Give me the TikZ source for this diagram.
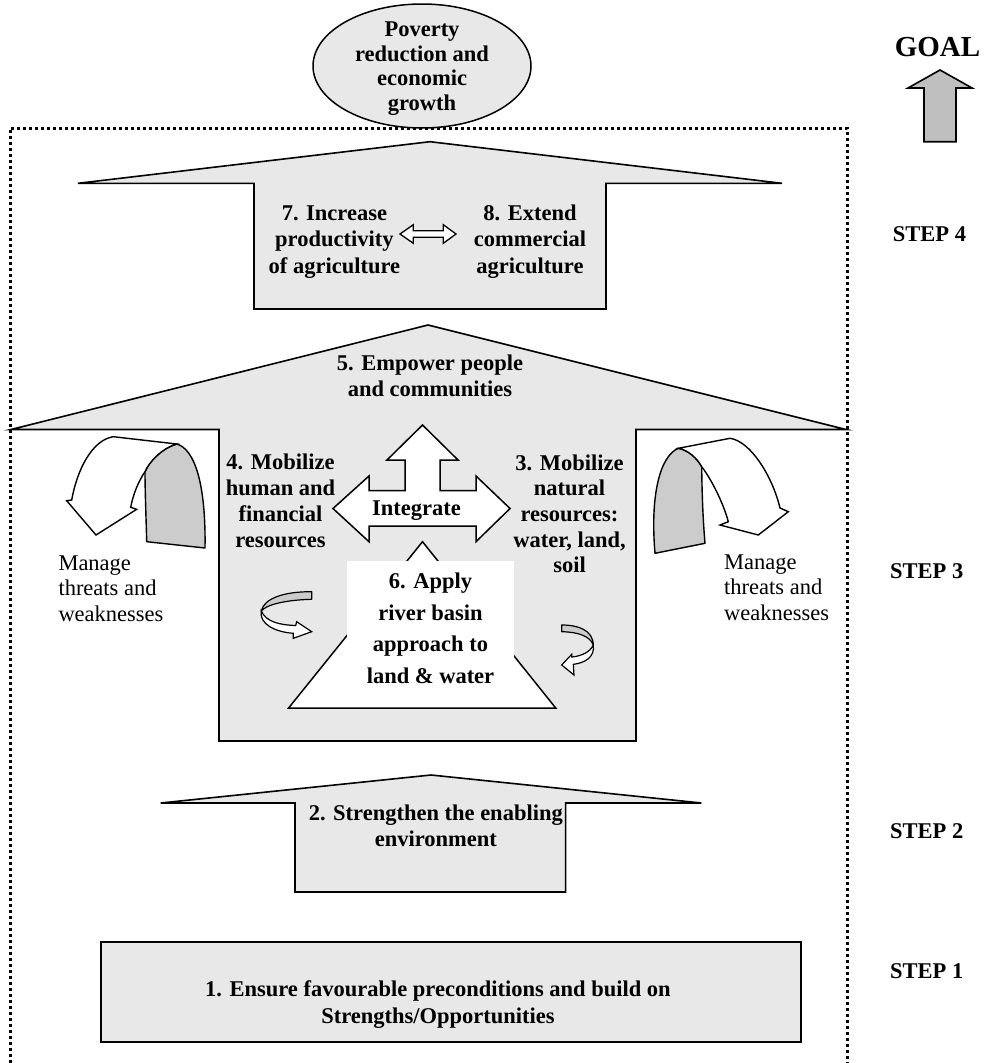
\documentclass[tikz,border=0pt]{standalone}
\usepackage{fontspec}
\setmainfont{Liberation Serif}
\definecolor{panelgray}{gray}{0.91}
\definecolor{ribbongray}{gray}{0.8}
\definecolor{goalgray}{gray}{0.75}
\begin{document}
\begin{tikzpicture}[x=1pt,y=-1pt,
  blockarrow/.style={draw=black,line width=1.6pt,line join=miter,fill=panelgray},
  hollow/.style={draw=black,line width=1.5pt,line join=miter,fill=white},
  ribbon/.style={draw=black,line width=1.4pt,line join=round,fill=ribbongray},
  ribbonface/.style={draw=black,line width=1.4pt,line join=miter,fill=white},
  % multi-line labels are placed by the baseline of their last line
  lbl/.style={font=\fontsize{22.5}{#1}\selectfont\bfseries,align=center,inner sep=0pt,anchor=base},
  lbl/.default=26,
  note/.style={font=\fontsize{22.5}{25.7}\selectfont,align=left,inner sep=0pt,anchor=base west},
  steplbl/.style={font=\fontsize{22.5}{26}\selectfont\bfseries,inner sep=0pt,anchor=base west}]

\useasboundingbox (0,0) rectangle (985,1063);
\fill[white] (0,0) rectangle (985,1063);

% dotted frame round the four steps
\draw[line width=3pt,dash pattern=on 3pt off 3pt] (10,1063) -- (10,128) -- (847,128) -- (847,1063);

% goal
\draw[line width=1.5pt,fill=panelgray] (422,66) ellipse [x radius=109,y radius=62];
\node[lbl=24.5] (poverty) at (422,110) {Poverty\\reduction and\\economic\\growth};

\node[font=\fontsize{29}{30}\selectfont\bfseries,inner sep=0pt,anchor=base] (goal) at (937.5,56.7) {GOAL};
\draw[line width=1.6pt,fill=goalgray] (940,70) -- (972,88) -- (956,88) -- (956,141.7) -- (924,141.7) -- (924,88) -- (908,88) -- cycle;

% step 4
\draw[blockarrow] (430,141.7) -- (782,183.3) -- (606,183.3) -- (606,309) -- (254,309) -- (254,183.3) -- (78,183.3) -- cycle;
\node[lbl=26.2] (prod) at (334.4,273.1) {7. Increase\\productivity\\of agriculture};
\node[lbl=26.2] (comm) at (530,273.1) {8. Extend\\commercial\\agriculture};
\draw[hollow,line width=1.3pt] (400,234) -- (413.3,224.7) -- (413.3,230.7) -- (443.3,230.7) -- (443.3,224.7) -- (456,234) -- (443.3,243.3) -- (443.3,237.3) -- (413.3,237.3) -- (413.3,243.3) -- cycle;
\node[steplbl] (s4) at (892.7,241.7) {STEP 4};

% step 3
\draw[blockarrow] (428,325) -- (846,429.5) -- (636,429.5) -- (636,741) -- (219,741) -- (219,429.5) -- (11,429.5) -- cycle;
\node[lbl] (empower) at (430,396) {5. Empower people\\and communities};

% integrate arrows
\draw[hollow] (422.5,425) -- (458,460) -- (440,460) -- (440,490.7) -- (476,490.7) -- (476,476) -- (510,508.5) -- (476,541.7) -- (476,526) -- (369,526) -- (369,541.7) -- (333,508.5) -- (369,476) -- (369,490.7) -- (405,490.7) -- (405,460) -- (387,460) -- cycle;
\node[lbl] (integrate) at (416.5,515) {Integrate};

\node[lbl=25.7] (human) at (280.5,547) {4. Mobilize\\human and\\financial\\resources};
\node[lbl=25.7] (natural) at (569.5,572.8) {3. Mobilize\\natural\\resources:\\water, land,\\soil};

% river basin pyramid
\draw[hollow] (422.5,541.7) -- (555.7,708) -- (288.6,708) -- cycle;
\fill[white] (347,561) rectangle (514,704);
\node[lbl=31.7] (basin) at (430.5,683.4) {6. Apply\\river basin\\approach to\\land \& water};

% small curled arrows beside the pyramid
\draw[ribbon,line width=1.2pt] (311.7,591.7) .. controls (285,591.5) and (264,598) .. (261.3,611) .. controls (266,605) and (284,600) .. (311.7,599.3) -- cycle;
\draw[ribbonface,line width=1.2pt] (261.3,611) .. controls (259,624) and (275,632) .. (293.3,633.3) -- (293.3,638.3) -- (311.7,631.7) -- (296.7,621.7) -- (295.7,625.5) .. controls (280,625) and (266,622) .. (261.3,611) -- cycle;

\draw[ribbon,line width=1.2pt] (561.7,625) .. controls (578,625) and (593,630) .. (593.3,645) .. controls (590,636) and (578,632) .. (561.7,631.7) -- cycle;
\draw[ribbonface,line width=1.2pt] (593.3,645) .. controls (595,657) and (585,663) .. (573.3,664.3) -- (574,675) -- (561.7,665) -- (571.7,654.3) -- (571.7,657) .. controls (582,656) and (590,652) .. (593.3,645) -- cycle;

% threats and weaknesses, left
\draw[ribbon] (176.7,444) .. controls (195,449) and (206,485) .. (205,548) -- (146.7,541.7) .. controls (146,515) and (145,490) .. (145,471.7) .. controls (149,462) and (162,448) .. (176.7,444) -- cycle;
\draw[ribbonface] (176.7,444) -- (113.3,436.7) .. controls (92,440) and (77,470) .. (71.7,500) -- (66.7,500.7) -- (96,535) -- (136.7,509.3) -- (130.7,507.3) .. controls (133,495) and (138,482) .. (145,471.7) .. controls (149,462) and (162,448) .. (176.7,444) -- cycle;
\node[note] (threatsl) at (58.3,621.4) {Manage\\threats and\\weaknesses};

% threats and weaknesses, right
\draw[ribbon] (678.3,448.3) .. controls (660,456) and (650,495) .. (655,553.3) -- (705,543.3) .. controls (703,520) and (702,495) .. (701.7,466.7) .. controls (697,458) and (688,450) .. (678.3,448.3) -- cycle;
\draw[ribbonface] (678.3,448.3) -- (730,438.3) .. controls (750,441) and (772,475) .. (780,508) -- (788.3,511.7) -- (758.3,535) -- (720,525) -- (728.3,521.7) .. controls (724,505) and (712,480) .. (701.7,466.7) .. controls (697,458) and (688,450) .. (678.3,448.3) -- cycle;
\node[note] (threatsr) at (724,620.4) {Manage\\threats and\\weaknesses};

\node[steplbl] (s3) at (890,578.3) {STEP 3};

% step 2
\draw[blockarrow] (431,775) -- (701.4,803) -- (565.6,803) -- (565.6,892) -- (295,892) -- (295,803) -- (160.6,803) -- cycle;
\node[lbl] (enabling) at (435.8,846) {2. Strengthen the enabling\\environment};
\node[steplbl] (s2) at (890,838) {STEP 2};

% step 1
\draw[blockarrow] (101,941.7) rectangle (801,1041.7);
\node[lbl=26.6] (precond) at (438,1023.3) {1. Ensure favourable preconditions and build on\\Strengths/Opportunities};
\node[steplbl] (s1) at (890,978) {STEP 1};

\end{tikzpicture}
\end{document}
